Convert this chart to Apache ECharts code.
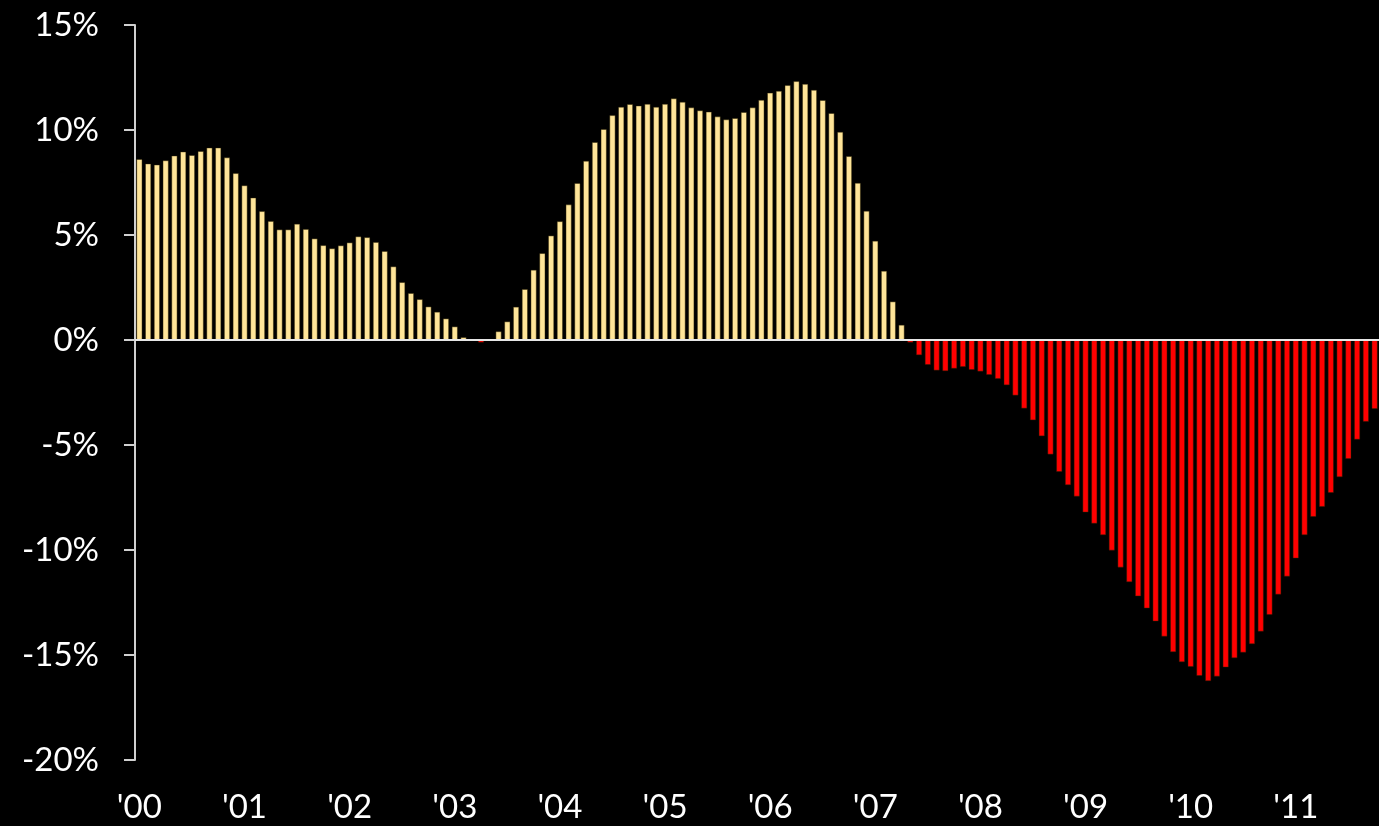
<!DOCTYPE html>
<html>
<head>
<meta charset="utf-8">
<script src="https://cdn.jsdelivr.net/npm/echarts@6/dist/echarts.min.js"></script>
<style>
  html, body { margin: 0; padding: 0; background: #000; }
  #chart { width: 1379px; height: 826px; }
</style>
</head>
<body>
<div id="chart"></div>
<script>
// year tick labels, one per January
var yearLabels = ["'00", "'01", "'02", "'03", "'04", "'05", "'06", "'07", "'08", "'09", "'10", "'11"];

// monthly % change, Jan 2000 .. Oct 2011
var v2000 = [8.62, 8.41, 8.36, 8.56, 8.79, 8.98, 8.81, 9.00, 9.17, 9.17, 8.70, 7.95];
var v2001 = [7.37, 6.79, 6.14, 5.67, 5.27, 5.27, 5.54, 5.29, 4.84, 4.52, 4.37, 4.51];
var v2002 = [4.65, 4.94, 4.90, 4.67, 4.24, 3.51, 2.76, 2.24, 1.95, 1.60, 1.35, 1.03];
var v2003 = [0.65, 0.14, 0, -0.13, 0, 0.42, 0.89, 1.59, 2.43, 3.35, 4.14, 4.98];
var v2004 = [5.66, 6.46, 7.48, 8.54, 9.43, 10.05, 10.71, 11.11, 11.24, 11.17, 11.25, 11.11];
var v2005 = [11.25, 11.51, 11.35, 11.08, 10.94, 10.88, 10.65, 10.51, 10.57, 10.86, 11.08, 11.44];
var v2006 = [11.78, 11.87, 12.14, 12.33, 12.20, 11.92, 11.43, 10.81, 9.92, 8.76, 7.49, 6.16];
var v2007 = [4.73, 3.30, 1.84, 0.73, -0.13, -0.73, -1.19, -1.46, -1.49, -1.37, -1.29, -1.43];
var v2008 = [-1.51, -1.67, -1.86, -2.16, -2.65, -3.27, -3.83, -4.59, -5.46, -6.29, -6.92, -7.46];
var v2009 = [-8.22, -8.75, -9.30, -10.03, -10.84, -11.54, -12.21, -12.79, -13.41, -14.13, -14.87, -15.35];
var v2010 = [-15.57, -16.00, -16.25, -16.03, -15.60, -15.16, -14.89, -14.49, -13.89, -13.10, -12.13, -11.27];
var v2011 = [-10.41, -9.30, -8.43, -7.95, -7.29, -6.54, -5.67, -4.75, -3.90, -3.29];

var values = [].concat(v2000, v2001, v2002, v2003, v2004, v2005, v2006, v2007, v2008, v2009, v2010, v2011);

// one category per month; January carries the year label
var months = values.map(function (v, i) {
  return i % 12 === 0 ? yearLabels[i / 12] : 'm' + i;
});

var font = 'Lato, "DejaVu Sans", sans-serif';

var chart = echarts.init(document.getElementById('chart'));
var option = {
  backgroundColor: '#000',
  animation: false,
  grid: { left: 135, top: 25, width: 1245, height: 735 },
  xAxis: {
    type: 'category',
    data: months,
    axisLine: { show: false, onZero: false },
    axisTick: { show: false },
    axisLabel: {
      interval: 11,
      color: '#fff',
      fontFamily: font,
      fontSize: 33,
      margin: 31,
      formatter: function (val) { return val.charAt(0) === 'm' ? '' : val; }
    },
    splitLine: { show: false }
  },
  yAxis: {
    type: 'value',
    min: -20,
    max: 15,
    interval: 5,
    axisLine: { show: true, lineStyle: { color: '#d0d0d0', width: 2 } },
    axisTick: { show: true, length: 11, lineStyle: { color: '#d0d0d0', width: 2 } },
    axisLabel: {
      color: '#fff',
      fontFamily: font,
      fontSize: 33,
      margin: 36,
      formatter: '{value}%'
    },
    splitLine: { show: false }
  },
  series: [{
    type: 'bar',
    data: values,
    barWidth: '72%',
    itemStyle: {
      color: function (p) { return p.value < 0 ? '#ff0000' : '#ffe599'; },
      borderColor: 'rgba(40,30,0,0.45)',
      borderWidth: 1
    },
    markLine: {
      silent: true,
      symbol: 'none',
      label: { show: false },
      lineStyle: { color: '#e6e6e6', width: 2, type: 'solid' },
      data: [{ yAxis: 0 }]
    }
  }]
};
chart.setOption(option);
</script>
</body>
</html>
